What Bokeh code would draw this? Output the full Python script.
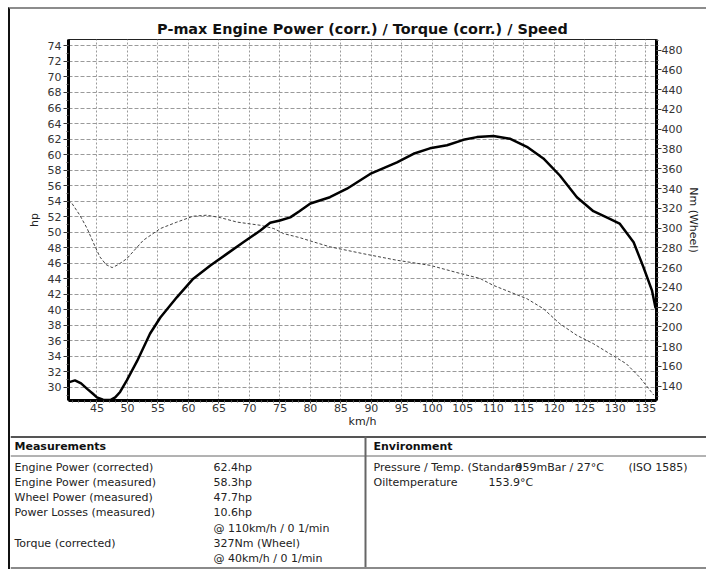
from bokeh.plotting import figure
from bokeh.models import Range1d, LinearAxis, FixedTicker, Grid
from bokeh.layouts import column
from bokeh.embed import file_html
from bokeh.resources import INLINE
from bokeh.core.properties import value

# ---------------- data ----------------
speed_power = [40.3, 40.6, 41.4, 42.4, 43.4, 44.3, 45.0, 46.0, 47.2, 48.0, 48.8, 49.9,
               51.6, 53.7, 55.4, 58.1, 60.8, 63.6, 66.3, 69.0, 71.8, 73.4, 75.0, 76.7,
               78.2, 80.0, 83.2, 86.0, 89.8, 94.2, 96.9, 99.6, 102.4, 105.1, 107.3, 110.0,
               112.7, 115.5, 118.2, 120.9, 123.7, 126.4, 129.1, 130.7, 133.0, 134.6, 136.0, 136.6]
power_hp = [30.6, 30.7, 30.9, 30.5, 29.8, 29.2, 28.7, 28.4, 28.35, 28.7, 29.4, 30.9,
            33.4, 36.9, 39.0, 41.6, 44.0, 45.7, 47.2, 48.7, 50.2, 51.2, 51.5, 51.9,
            52.7, 53.7, 54.5, 55.6, 57.5, 59.0, 60.1, 60.8, 61.2, 61.9, 62.25, 62.4,
            62.05, 61.0, 59.5, 57.3, 54.5, 52.7, 51.7, 51.1, 48.7, 45.5, 42.5, 40.2]

speed_torque = [40.3, 40.9, 42.2, 43.4, 44.5, 45.5, 46.5, 47.5, 48.5, 49.9, 52.6, 55.4,
                58.1, 60.8, 63.0, 65.2, 68.0, 71.8, 74.0, 75.6, 78.2, 80.5, 83.2, 88.7,
                94.2, 99.6, 104.6, 107.8, 110.0, 115.5, 118.2, 120.9, 123.7, 126.4, 129.1,
                131.8, 134.0, 136.3]
torque_nm = [328, 325, 313, 299.5, 284, 270.7, 263, 260, 263, 269, 287.6, 299.5,
             306, 312, 313, 310.6, 306, 302.8, 299.5, 294.4, 290.4, 286, 281, 274,
             267.4, 262.3, 254, 249, 242, 228.5, 218.4, 203.2, 191.4, 183, 172.8,
             162.7, 149, 131]

speed_ticks = list(range(45, 136, 5))
speed_minor = list(range(41, 137))
hp_ticks = list(range(30, 75, 2))
hp_minor = list(range(29, 75))
nm_ticks = list(range(140, 481, 20))
nm_minor = list(range(130, 491, 5))

title_text = "P-max Engine Power (corr.) / Torque (corr.) / Speed"

meas_labels = ["Engine Power (corrected)", "Engine Power (measured)", "Wheel Power (measured)",
               "Power Losses (measured)", "", "Torque (corrected)", ""]
meas_values = ["62.4hp", "58.3hp", "47.7hp", "10.6hp", "@ 110km/h / 0 1/min",
               "327Nm (Wheel)", "@ 40km/h / 0 1/min"]
env_labels = ["Pressure / Temp. (Standard", "Oiltemperature"]
env_values = ["959mBar / 27°C", "153.9°C"]
env_extra = ["(ISO 1585)"]

FONT = "DejaVu Sans"
W = 696

# ---------------- chart ----------------
p = figure(width=W, height=426, x_range=Range1d(40.34, 136.75), y_range=Range1d(28.3, 74.83),
           output_backend="svg", toolbar_location=None, x_axis_type=None, y_axis_type=None,
           min_border_left=58, min_border_right=50, min_border_top=30, min_border_bottom=35,
           title=title_text)
p.frame_align = False
p.extra_y_ranges = {"nm": Range1d(125.5, 490.8)}
p.title.align = "center"
p.title.text_font = FONT
p.title.text_font_size = "14.4px"
p.title.text_font_style = "bold"
p.title.text_color = "#111111"
p.title.standoff = 5
p.title.offset = 4
p.outline_line_color = "#222222"
p.outline_line_width = 1
p.background_fill_color = "white"
p.border_fill_color = "white"


def style_axis(ax):
    ax.axis_line_width = 3
    ax.axis_line_color = "black"
    ax.major_tick_in = 0
    ax.major_tick_out = 5
    ax.minor_tick_in = 0
    ax.minor_tick_out = 2
    ax.major_tick_line_color = "#333333"
    ax.minor_tick_line_color = "#555555"
    ax.major_label_text_font = FONT
    ax.major_label_text_font_size = "11px"
    ax.major_label_text_color = "#333333"
    ax.major_label_standoff = 2
    ax.axis_label_text_font = FONT
    ax.axis_label_text_font_size = "11px"
    ax.axis_label_text_font_style = "normal"
    ax.axis_label_text_color = "#222222"


xaxis = LinearAxis(ticker=FixedTicker(ticks=speed_ticks, minor_ticks=speed_minor), axis_label="km/h")
style_axis(xaxis)
xaxis.major_tick_out = 3
xaxis.major_label_standoff = 0
xaxis.axis_label_standoff = 0
p.add_layout(xaxis, "below")

yaxis = LinearAxis(ticker=FixedTicker(ticks=hp_ticks, minor_ticks=hp_minor), axis_label="hp")
style_axis(yaxis)
yaxis.axis_label_standoff = 4
p.add_layout(yaxis, "left")

raxis = LinearAxis(y_range_name="nm", ticker=FixedTicker(ticks=nm_ticks, minor_ticks=nm_minor),
                   axis_label="Nm (Wheel)")
style_axis(raxis)
raxis.major_label_standoff = 0
raxis.axis_label_standoff = 2
p.add_layout(raxis, "right")

p.add_layout(Grid(dimension=0, ticker=FixedTicker(ticks=speed_ticks), grid_line_color="#9a9a9a",
                  grid_line_dash="2 2", grid_line_width=1))
p.add_layout(Grid(dimension=1, ticker=FixedTicker(ticks=hp_ticks), grid_line_color="#9a9a9a",
                  grid_line_dash="4 2", grid_line_width=1))

p.line(speed_torque, torque_nm, y_range_name="nm", line_color="#444444", line_width=1,
       line_dash="3 2")
p.line(speed_power, power_hp, line_color="black", line_width=2.5)

# ---------------- table ----------------
TH = 134
t = figure(width=W, height=TH, x_range=Range1d(0, W), y_range=Range1d(TH, 0),
           output_backend="svg", toolbar_location=None, x_axis_type=None, y_axis_type=None,
           min_border=0, min_border_left=0, min_border_right=0, min_border_top=0,
           min_border_bottom=0)
t.frame_align = False
t.outline_line_color = None
t.background_fill_color = "white"
t.border_fill_color = "white"

# frame lines
t.segment(x0=[0, 0, 355, 0], y0=[1.5, 20.5, 1, TH - 1.5], x1=[W, W, 355, W],
          y1=[1.5, 20.5, TH, TH - 1.5], line_color=["#555555", "#666666", "#666666", "#8a8a8a"],
          line_width=[2, 1, 2, 2])

row_y = [31.7 + 15.2 * i for i in range(len(meas_labels))]

t.text(x=[4, 363], y=[11, 11], text=["Measurements", "Environment"], text_font=value(FONT),
       text_font_size="11px", text_font_style="bold", text_baseline="middle", text_color="#111111")
t.text(x=[4] * len(meas_labels), y=row_y, text=meas_labels, text_font=value(FONT),
       text_font_size="11px", text_baseline="middle", text_color="#222222")
t.text(x=[203] * len(meas_values), y=row_y, text=meas_values, text_font=value(FONT),
       text_font_size="11px", text_baseline="middle", text_color="#222222")
t.text(x=[363] * len(env_labels), y=row_y[:2], text=env_labels, text_font=value(FONT),
       text_font_size="11px", text_baseline="middle", text_color="#222222")
t.text(x=[505, 478], y=row_y[:2], text=env_values, text_font=value(FONT),
       text_font_size="11px", text_baseline="middle", text_color="#222222")
t.text(x=[618], y=row_y[:1], text=env_extra, text_font=value(FONT),
       text_font_size="11px", text_baseline="middle", text_color="#222222")

layout = column(p, t, spacing=0,
                styles={"margin": "7px 0 0 8px", "border-left": "2px solid #111111",
                        "border-top": "2px solid #8c8c8c"})

open("out.html", "w").write(file_html(layout, INLINE))
